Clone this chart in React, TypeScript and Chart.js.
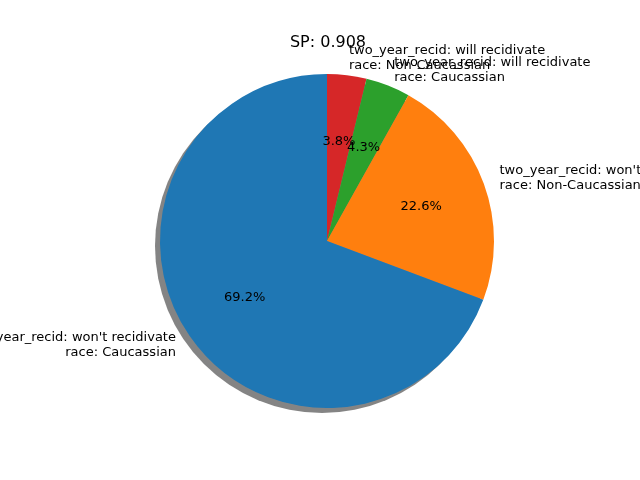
import { useEffect, useRef } from 'react';
import { Chart, registerables } from 'chart.js';

Chart.register(...registerables);

// clockwise from the top (matplotlib draws counter-clockwise, so reversed)
const labels = [
    "two_year_recid: will recidivate\nrace: Non-Caucassian",
    "two_year_recid: will recidivate\nrace: Caucassian",
    "two_year_recid: won't recidivate\nrace: Non-Caucassian",
    "two_year_recid: won't recidivate\nrace: Caucassian",
];
const values = [3.8, 4.3, 22.6, 69.2];
const colors = ['#d62728', '#2ca02c', '#ff7f0e', '#1f77b4'];
const title = 'SP: 0.908';

const FONT = '"DejaVu Sans", sans-serif';

const piePlugin = {
    id: 'pieExtras',
    beforeDatasetsDraw(chart: any) {
        const arc = chart.getDatasetMeta(0).data[0];
        if (!arc) return;
        const { x, y, outerRadius } = arc;
        const ctx = chart.ctx;
        ctx.save();
        ctx.fillStyle = 'rgba(80,80,80,0.7)';
        ctx.beginPath();
        ctx.arc(x - 5, y + 5, outerRadius, 0, Math.PI * 2);
        ctx.fill();
        ctx.restore();
    },
    afterDatasetsDraw(chart: any) {
        const ctx = chart.ctx;
        const meta = chart.getDatasetMeta(0);
        ctx.save();
        ctx.fillStyle = '#000';
        ctx.font = `13px ${FONT}`;
        meta.data.forEach((arc: any, i: number) => {
            const { x, y, outerRadius, startAngle, endAngle } = arc;
            const a = (startAngle + endAngle) / 2;
            // percentage
            ctx.textAlign = 'center';
            ctx.textBaseline = 'middle';
            ctx.fillText(values[i].toFixed(1) + '%', x + Math.cos(a) * outerRadius * 0.6, y + Math.sin(a) * outerRadius * 0.6);
            // outer label
            const lx = x + Math.cos(a) * outerRadius * 1.1;
            const ly = y + Math.sin(a) * outerRadius * 1.1;
            const lines = labels[i].split('\n');
            ctx.textAlign = lx >= x ? 'left' : 'right';
            const lh = 15;
            lines.forEach((ln, k) => {
                ctx.fillText(ln, lx, ly + (k - (lines.length - 1) / 2) * lh);
            });
        });
        ctx.font = `16px ${FONT}`;
        ctx.textAlign = 'center';
        ctx.fillText(title, 328, 43);
        ctx.restore();
    },
};

export default function App() {
    const canvasRef = useRef<HTMLCanvasElement>(null);

    useEffect(() => {
        document.body.style.margin = '0';
        if (!canvasRef.current) return;
        const chart = new Chart(canvasRef.current, {
            type: 'pie',
            data: {
                labels,
                datasets: [{ data: values, backgroundColor: colors, borderWidth: 0 }],
            },
            options: {
                responsive: false,
                animation: false,
                layout: { padding: { top: 74, bottom: 72, left: 160, right: 146 } },
                plugins: { legend: { display: false }, tooltip: { enabled: false } },
            },
            plugins: [piePlugin],
        });
        return () => chart.destroy();
    }, []);

    return <canvas ref={canvasRef} width={640} height={480} style={{ display: 'block' }} />;
}
